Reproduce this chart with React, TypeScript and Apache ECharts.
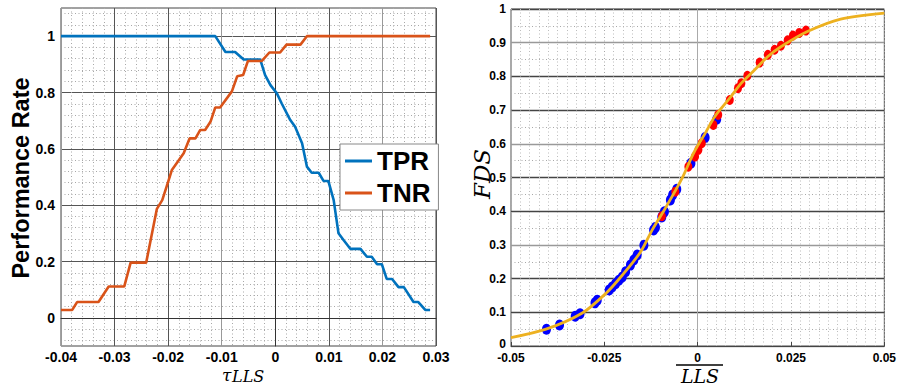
import React, { useEffect, useRef } from "react";
import * as echarts from "echarts";

// ---- Left chart: TPR / TNR vs tau_LLS ----
const tprX = [-0.04, -0.0112, -0.0093, -0.0075, -0.0059, -0.0028, -0.0019, -0.0009, 0.0003, 0.0012, 0.0028, 0.0037, 0.005, 0.0059, 0.0068, 0.0081, 0.009, 0.0099, 0.0109, 0.0118, 0.0127, 0.014, 0.0159, 0.0171, 0.018, 0.019, 0.0199, 0.0208, 0.0218, 0.023, 0.024, 0.0258, 0.0267, 0.028, 0.0289];
const tprY = [1, 1, 0.944, 0.944, 0.917, 0.917, 0.862, 0.826, 0.797, 0.761, 0.702, 0.678, 0.62, 0.537, 0.515, 0.515, 0.486, 0.486, 0.418, 0.3, 0.277, 0.245, 0.245, 0.217, 0.217, 0.19, 0.19, 0.138, 0.138, 0.109, 0.109, 0.056, 0.056, 0.028, 0.028];

const tnrX = [-0.04, -0.0379, -0.037, -0.033, -0.0311, -0.0282, -0.027, -0.0241, -0.0221, -0.0211, -0.0199, -0.0193, -0.0171, -0.016, -0.0149, -0.014, -0.0131, -0.0121, -0.0112, -0.0103, -0.0081, -0.0071, -0.006, -0.0051, -0.0025, -0.0011, 0.0009, 0.0021, 0.0047, 0.0059, 0.0289];
const tnrY = [0.028, 0.028, 0.056, 0.056, 0.111, 0.111, 0.196, 0.196, 0.387, 0.418, 0.489, 0.525, 0.584, 0.637, 0.637, 0.667, 0.667, 0.696, 0.747, 0.747, 0.804, 0.858, 0.862, 0.912, 0.912, 0.942, 0.942, 0.97, 0.97, 1.0, 1.0];

const leftMajorY = [0, 0.2, 0.4, 0.6, 0.8, 1];
const leftMinorY = [-0.08, -0.04, 0.04, 0.08, 0.12, 0.16, 0.24, 0.28, 0.32, 0.36, 0.44, 0.48, 0.52, 0.56, 0.64, 0.68, 0.72, 0.76, 0.84, 0.88, 0.92, 0.96, 1.04, 1.08];

// ---- Right chart: FDS vs LLS ----
const fitX = [-0.05, -0.0406, -0.0309, -0.0246, -0.0202, -0.0153, -0.0122, -0.0087, -0.0043, -0.0011, 0.002, 0.0046, 0.0082, 0.0117, 0.0153, 0.0188, 0.0223, 0.0294, 0.0383, 0.05];
const fitY = [0.025, 0.05, 0.098, 0.156, 0.21, 0.279, 0.344, 0.408, 0.495, 0.572, 0.631, 0.681, 0.73, 0.78, 0.82, 0.859, 0.888, 0.933, 0.97, 0.988];

const blueX = [-0.0405, -0.037, -0.0328, -0.0315, -0.0275, -0.0269, -0.0237, -0.0229, -0.022, -0.0211, -0.0202, -0.0193, -0.018, -0.0171, -0.0162, -0.0144, -0.0118, -0.0113, -0.0096, -0.0089, -0.0073, -0.0067, -0.0056, -0.0018, 0.002, 0.0051];
const blueY = [0.05, 0.062, 0.088, 0.096, 0.128, 0.136, 0.166, 0.175, 0.185, 0.195, 0.205, 0.22, 0.24, 0.255, 0.27, 0.299, 0.344, 0.352, 0.383, 0.398, 0.433, 0.448, 0.465, 0.542, 0.619, 0.673];

const redX = [-0.0096, -0.006, -0.0025, -0.0007, 0.0002, 0.0011, 0.0042, 0.0055, 0.0086, 0.0108, 0.0117, 0.0133, 0.0166, 0.0188, 0.0206, 0.0223, 0.0241, 0.0255, 0.0272, 0.029];
const redY = [0.385, 0.458, 0.532, 0.562, 0.582, 0.602, 0.656, 0.686, 0.73, 0.765, 0.78, 0.802, 0.841, 0.864, 0.879, 0.891, 0.907, 0.921, 0.929, 0.936];

const zip = (xs: number[], ys: number[]) => xs.map((x, i) => [x, ys[i]]);

const SANS = "Liberation Sans, Arial, sans-serif";
const SERIF = "DejaVu Serif, serif";
const dotted = { type: [1, 2.5] as any, color: "#a8a8a8", width: 1 };

export default function App() {
  const ref = useRef<HTMLDivElement>(null);
  useEffect(() => {
    const chart = echarts.init(ref.current!, null, { renderer: "svg" });
    chart.setOption({
      animation: false,
      backgroundColor: "#fff",
      grid: [
        { left: 61, top: 8, width: 375, height: 338, show: true, borderColor: "#444", borderWidth: 1, backgroundColor: "#fff" },
        { left: 511, top: 9, width: 377, height: 337, show: true, borderColor: "#555", borderWidth: 1, backgroundColor: "#fff" },
      ],
      xAxis: [
        {
          gridIndex: 0, type: "value", min: -0.04, max: 0.03, interval: 0.01,
          axisLine: { show: true, lineStyle: { color: "#333" } },
          axisTick: { show: false },
          axisLabel: { fontFamily: SANS, fontWeight: "bold", fontSize: 14, lineHeight: 14, color: "#000", margin: 4 },
          splitLine: { show: true, lineStyle: { color: ["#999", "#555", "#555"], width: 1 } },
          minorTick: { show: false, splitNumber: 5 },
          minorSplitLine: { show: true, lineStyle: dotted },
        },
        {
          gridIndex: 1, type: "value", min: -0.05, max: 0.05, interval: 0.025,
          axisLine: { show: true, lineStyle: { color: "#444" } },
          axisTick: { show: true, inside: true, length: 4, lineStyle: { color: "#444" } },
          axisLabel: { fontFamily: SANS, fontWeight: "bold", fontSize: 12, lineHeight: 12, color: "#000", margin: 6 },
          splitLine: { show: true, lineStyle: dotted },
          minorTick: { show: false, splitNumber: 10 },
          minorSplitLine: { show: true, lineStyle: { type: [1, 2.5] as any, color: "#bdbdbd", width: 1 } },
        },
      ],
      yAxis: [
        {
          gridIndex: 0, type: "value", min: -0.1, max: 1.1,
          axisLine: { show: true, lineStyle: { color: "#333" } },
          axisTick: { show: false, customValues: leftMajorY },
          axisLabel: { customValues: leftMajorY, fontFamily: SANS, fontWeight: "bold", fontSize: 14, color: "#000", margin: 6 },
          splitLine: { show: true, lineStyle: { color: "#555", width: 1 } },
        },
        {
          gridIndex: 0, type: "value", min: -0.1, max: 1.1, position: "left",
          axisLine: { show: false },
          axisTick: { show: false, customValues: leftMinorY },
          axisLabel: { show: false, customValues: leftMinorY },
          splitLine: { show: true, lineStyle: dotted },
        },
        {
          gridIndex: 1, type: "value", min: 0, max: 1, interval: 0.1,
          axisLine: { show: true, lineStyle: { color: "#aaa" } },
          axisTick: { show: false },
          axisLabel: {
            fontFamily: SANS, fontWeight: "bold", fontSize: 12, lineHeight: 11, color: "#000", margin: 5,
            formatter: (v: number) => (v === 0 ? "{z|0}" : String(v)),
            rich: { z: { fontFamily: SANS, fontWeight: "bold", fontSize: 12, color: "#000", padding: [0, 0, 5, 0] } },
          },
          splitLine: { show: true, lineStyle: { color: ["#999", "#444", "#444"], width: 1.3 } },
          minorTick: { show: false, splitNumber: 2 },
          minorSplitLine: { show: true, lineStyle: dotted },
        },
      ],
      legend: {
        data: ["TPR", "TNR"],
        orient: "vertical",
        left: 340, top: 144,
        padding: [4, 8, 4, 5],
        itemGap: 6,
        itemWidth: 27, itemHeight: 3,
        icon: "rect",
        backgroundColor: "#fff",
        borderColor: "#888", borderWidth: 1,
        textStyle: { fontFamily: SANS, fontWeight: "bold", fontSize: 26, color: "#000", lineHeight: 26 },
      },
      series: [
        {
          name: "TPR", type: "line", xAxisIndex: 0, yAxisIndex: 0, data: zip(tprX, tprY),
          showSymbol: false, symbol: "none", lineStyle: { color: "#0072BD", width: 2.6 }, itemStyle: { color: "#0072BD" }, z: 3,
        },
        {
          name: "TNR", type: "line", xAxisIndex: 0, yAxisIndex: 0, data: zip(tnrX, tnrY),
          showSymbol: false, symbol: "none", lineStyle: { color: "#D95319", width: 2.6 }, itemStyle: { color: "#D95319" }, z: 3,
        },
        {
          name: "neg", type: "scatter", xAxisIndex: 1, yAxisIndex: 2, data: zip(blueX, blueY),
          symbol: "circle", symbolSize: [9, 11], itemStyle: { color: "#0000FF", opacity: 1 }, z: 2,
        },
        {
          name: "pos", type: "scatter", xAxisIndex: 1, yAxisIndex: 2, data: zip(redX, redY),
          symbol: "circle", symbolSize: [8, 10], itemStyle: { color: "#FF0000", opacity: 1 }, z: 3,
        },
        {
          name: "fit", type: "line", xAxisIndex: 1, yAxisIndex: 2, data: zip(fitX, fitY),
          showSymbol: false, symbol: "none", smooth: 0.3, lineStyle: { color: "#EDB120", width: 2.8 }, z: 4,
        },
      ],
      graphic: [
        {
          type: "text", x: 21, y: 178, rotation: Math.PI / 2,
          style: { text: "Performance Rate", font: `bold 23.5px ${SANS}`, fill: "#000", align: "center", verticalAlign: "middle" },
        },
        {
          type: "text", x: 222, y: 375,
          style: { text: "τ", font: `italic 17px ${SERIF}`, fill: "#000", align: "left", verticalAlign: "middle" },
        },
        {
          type: "text", x: 232, y: 376.5,
          style: { text: "LLS", font: `italic 16px ${SERIF}`, fill: "#000", align: "left", verticalAlign: "middle" },
        },
        {
          type: "text", x: 482, y: 174, rotation: Math.PI / 2,
          style: { text: "FDS", font: `italic 23px ${SERIF}`, fill: "#000", align: "center", verticalAlign: "middle" },
        },
        {
          type: "text", x: 700, y: 375.5,
          style: { text: "LLS", font: `italic 19px ${SERIF}`, fill: "#000", align: "center", verticalAlign: "middle" },
        },
        {
          type: "line", shape: { x1: 676, y1: 365, x2: 723, y2: 365 },
          style: { stroke: "#000", lineWidth: 1.3 },
        },
      ],
    });
    return () => chart.dispose();
  }, []);
  return <div ref={ref} style={{ position: "fixed", left: 0, top: 0, width: 899, height: 386 }} />;
}
